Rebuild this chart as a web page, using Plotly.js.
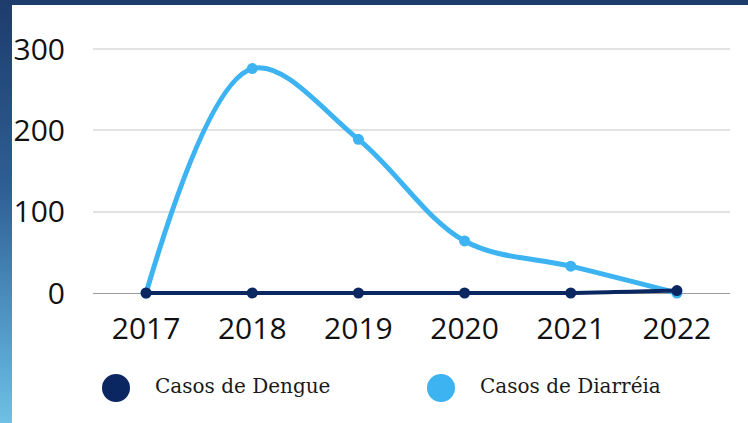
<!DOCTYPE html>
<html>
<head>
<meta charset="utf-8">
<script src="https://cdn.plot.ly/plotly-3.0.1.min.js"></script>
<style>
  html, body { margin: 0; padding: 0; width: 748px; height: 423px; overflow: hidden; }
  #frame { position: absolute; left: 0; top: 0; width: 748px; height: 423px;
    background: linear-gradient(180deg, #1d3c6c 0%, #2f5f95 45%, #5aa6d3 85%, #6fc0e4 100%); }
  #chart { position: absolute; left: 12px; top: 5px; width: 736px; height: 418px; background: #fff; }
</style>
</head>
<body>
<div id="frame"></div>
<div id="chart"></div>
<script>
const years = ['2017', '2018', '2019', '2020', '2021', '2022'];
const dengue = [0, 0, 0, 0, 0, 3];
const diarreia = [0, 276, 189, 64, 33, 0];
const seriesNames = ['Casos de Dengue', 'Casos de Diarréia'];
const yTicks = [0, 100, 200, 300];

const navy = '#0b2761';
const sky = '#3db3f2';

const traces = [
  {
    x: years, y: diarreia, name: seriesNames[1], type: 'scatter', mode: 'lines+markers',
    line: { color: sky, width: 5, shape: 'spline', smoothing: 1 },
    marker: { color: sky, size: 11 }, cliponaxis: false, showlegend: false
  },
  {
    x: years, y: dengue, name: seriesNames[0], type: 'scatter', mode: 'lines+markers',
    line: { color: navy, width: 4, shape: 'spline', smoothing: 0.6 },
    marker: { color: navy, size: 11 }, cliponaxis: false, showlegend: false
  }
];

const legendX = [0.0361, 0.5463];
const legendTextX = [0.0942, 0.6044];
const legendColors = [navy, sky];

const shapes = legendX.map((x, i) => ({
  type: 'circle', xref: 'paper', yref: 'paper',
  xsizemode: 'pixel', ysizemode: 'pixel',
  xanchor: x, yanchor: -0.3004,
  x0: -14, x1: 14, y0: -14, y1: 14,
  fillcolor: legendColors[i], line: { width: 0 }
}));

const annotations = seriesNames.map((n, i) => ({
  text: n, xref: 'paper', yref: 'paper', x: legendTextX[i], y: -0.2933,
  xanchor: 'left', yanchor: 'middle', showarrow: false,
  font: { family: 'DejaVu Serif', size: 20, color: '#1a1a1a' }
}));

const layout = {
  width: 736, height: 418,
  margin: { l: 81, r: 18, t: 15, b: 120 },
  paper_bgcolor: '#ffffff', plot_bgcolor: '#ffffff',
  showlegend: false, hovermode: false,
  font: { family: 'Open Sans', color: '#111' },
  xaxis: {
    type: 'category', range: [-0.5, 5.5],
    showgrid: false, zeroline: false, showline: false, ticks: '',
    tickfont: { family: 'Open Sans', size: 30, color: '#111', weight: 500 },
    ticklabelstandoff: 5
  },
  yaxis: {
    range: [-12.3, 335.8], tickvals: yTicks,
    showgrid: true, gridcolor: '#e2e2e2', gridwidth: 2,
    zeroline: true, zerolinecolor: '#9a9a9a', zerolinewidth: 1,
    showline: false, ticks: '',
    tickfont: { family: 'Open Sans', size: 30, color: '#111', weight: 500 },
    ticklabelstandoff: 27
  },
  shapes: shapes,
  annotations: annotations
};

Plotly.newPlot('chart', traces, layout, { staticPlot: true, displayModeBar: false });
</script>
</body>
</html>
